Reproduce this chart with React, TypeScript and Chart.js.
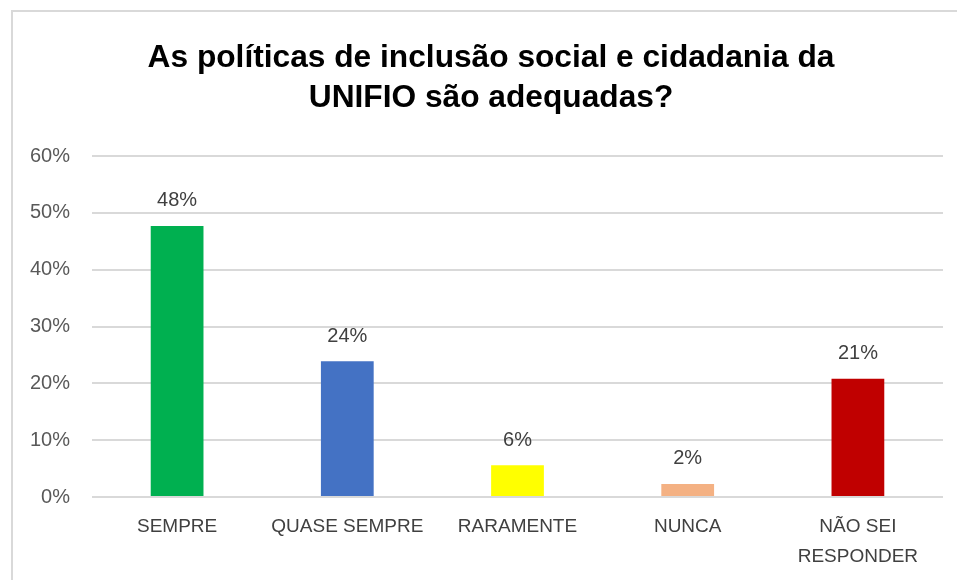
import React, { useEffect, useRef } from "react";
import { Chart, registerables } from "chart.js";

Chart.register(...registerables);

const titleLines = ["As políticas de inclusão social e cidadania da", "UNIFIO são adequadas?"];
const categories: (string | string[])[] = ["SEMPRE", "QUASE SEMPRE", "RARAMENTE", "NUNCA", ["NÃO SEI", "RESPONDER"]];
const values = [47.7, 23.9, 5.6, 2.3, 20.8];
const barColors = ["#00B050", "#4472C4", "#FFFF00", "#F4B183", "#C00000"];
const yTicks = [0, 10, 20, 30, 40, 50, 60];

const FONT = "'Liberation Sans', Arial, sans-serif";

const dataLabelPlugin = {
  id: "dataLabels",
  afterDatasetsDraw(chart: any) {
    const ctx = chart.ctx;
    const meta = chart.getDatasetMeta(0);
    ctx.save();
    ctx.font = `20px ${FONT}`;
    ctx.fillStyle = "#404040";
    ctx.textAlign = "center";
    ctx.textBaseline = "middle";
    meta.data.forEach((bar: any, i: number) => {
      ctx.fillText(`${Math.round(values[i])}%`, bar.x, bar.y - 25);
    });
    ctx.restore();
  },
};

const titlePlugin = {
  id: "customTitle",
  afterDraw(chart: any) {
    const ctx = chart.ctx;
    ctx.save();
    ctx.font = `bold 31.7px ${FONT}`;
    ctx.fillStyle = "#000000";
    ctx.textAlign = "center";
    ctx.textBaseline = "middle";
    titleLines.forEach((line, i) => {
      ctx.fillText(line, 491, 58 + i * 40);
    });
    ctx.restore();
  },
};

export default function App() {
  const ref = useRef<HTMLCanvasElement | null>(null);
  useEffect(() => {
    if (!ref.current) return;
    const chart = new Chart(ref.current, {
      type: "bar",
      data: {
        labels: categories,
        datasets: [
          {
            data: values,
            backgroundColor: barColors,
            borderWidth: 0,
            categoryPercentage: 1,
            barPercentage: 0.31,
          },
        ],
      },
      options: {
        responsive: false,
        animation: false,
        devicePixelRatio: 1,
        layout: { padding: { left: 12, right: 14, top: 156, bottom: 0 } },
        plugins: {
          legend: { display: false },
          tooltip: { enabled: false },
          title: { display: false },
        },
        scales: {
          x: {
            grid: { display: false, drawTicks: false },
            border: { display: false },
            ticks: {
              color: "#404040",
              font: { family: FONT, size: 19, lineHeight: 30 / 19 },
              padding: 15,
              maxRotation: 0,
              autoSkip: false,
            },
            afterFit(s: any) {
              s.height = 83;
            },
          },
          y: {
            min: 0,
            max: 60,
            afterBuildTicks(s: any) {
              s.ticks = yTicks.map((v) => ({ value: v }));
            },
            grid: { color: "#D9D9D9", lineWidth: 2, drawTicks: false },
            border: { display: false },
            ticks: {
              color: "#595959",
              font: { family: FONT, size: 20 },
              padding: 22,
              callback: (v: any) => `${v}%`,
            },
            afterFit(s: any) {
              s.width = 80;
            },
          },
        },
      },
      plugins: [dataLabelPlugin, titlePlugin],
    });
    return () => chart.destroy();
  }, []);

  return (
    <div style={{ position: "fixed", left: 0, top: 0, width: 957, height: 580, background: "#ffffff", overflow: "hidden" }}>
      <div
        style={{
          position: "absolute",
          left: 11,
          top: 10,
          width: 960,
          height: 580,
          borderLeft: "2px solid #D9D9D9",
          borderTop: "2px solid #D9D9D9",
        }}
      />
      <canvas ref={ref} width={957} height={580} style={{ position: "absolute", left: 0, top: 0 }} />
    </div>
  );
}
